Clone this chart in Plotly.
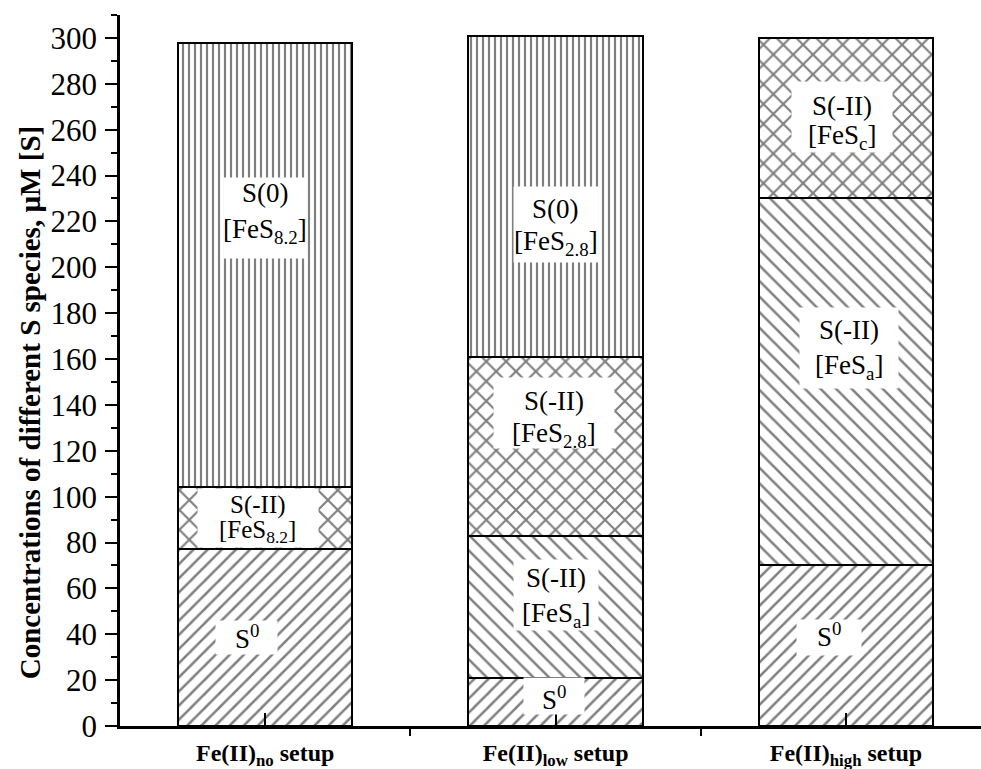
import plotly.graph_objects as go

categories = [1, 2, 3]
cat_labels = ["<b>Fe(II)<sub>no</sub> setup</b>",
              "<b>Fe(II)<sub>low</sub> setup</b>",
              "<b>Fe(II)<sub>high</sub> setup</b>"]

s0_vals = [77, 21, 70]             # S0
fesa_vals = [None, 62, 160]        # S(-II) [FeS_a]
cross_vals = [27, 78, 70]          # S(-II) [FeS_8.2], [FeS_2.8], [FeS_c]
sz_vals = [194, 140, None]         # S(0)

# white label boxes: x (data), y (data), width px, height px
box_x = [0.936, 0.974, 1.0, 1.995, 2.0, 1.995, 2.0, 2.943, 3.012, 2.985]
box_y = [38.4, 90.5, 221.5, 13.1, 57.1, 136.5, 218.5, 38.8, 165, 265.5]
box_w = [61, 120, 82, 60, 84, 120, 84, 64, 98, 100]
box_h = [33, 58, 80, 36, 70, 70, 75, 35, 80, 70]

# label texts: text, x (data), y (data)
label_text = ["S<sup>0</sup>", "S(-II)", "[FeS<sub>8.2</sub>]", "S(0)", "[FeS<sub>8.2</sub>]",
              "S<sup>0</sup>", "S(-II)", "[FeS<sub>a</sub>]", "S(-II)", "[FeS<sub>2.8</sub>]",
              "S(0)", "[FeS<sub>2.8</sub>]",
              "S<sup>0</sup>", "S(-II)", "[FeS<sub>a</sub>]", "S(-II)", "[FeS<sub>c</sub>]"]
label_x = [0.936, 0.974, 0.974, 1.0, 1.0,
           1.995, 2.0, 2.0, 1.995, 1.995,
           2.0, 2.0,
           2.943, 3.012, 3.012, 2.985, 2.985]
label_y = [38.6, 96.2, 85.0, 232.5, 216.0,
           12.0, 64.5, 48.5, 141.8, 127.0,
           225.5, 210.5,
           39.5, 172.5, 156.5, 270.5, 257.0]
label_fs = [27, 25, 25, 27, 27,
            27, 27, 27, 27, 27,
            27, 27,
            27, 27, 27, 27, 27]

serif = "'Liberation Serif', 'Times New Roman', Times, serif"

def seg(vals, shape, size, sol):
    return go.Bar(
        x=categories, y=vals, width=0.6,
        marker=dict(color="white",
                    line=dict(color="black", width=2),
                    pattern=dict(shape=shape, size=size, solidity=sol,
                                 fgcolor="black", bgcolor="white")),
        showlegend=False, hoverinfo="skip")

fig = go.Figure()
fig.add_trace(seg(s0_vals, "/", 10, 0.25))
fig.add_trace(seg(fesa_vals, "\\", 11, 0.23))
fig.add_trace(seg(cross_vals, "x", 14, 0.28))
fig.add_trace(seg(sz_vals, "|", 6, 0.36))

for x, y, w, h in zip(box_x, box_y, box_w, box_h):
    fig.add_annotation(x=x, y=y, xref="x", yref="y", text=" ", showarrow=False,
                       bgcolor="white", width=w, height=h, borderpad=0)

for t, x, y, fs in zip(label_text, label_x, label_y, label_fs):
    fig.add_annotation(x=x, y=y, xref="x", yref="y", text=t, showarrow=False,
                       font=dict(family=serif, size=fs, color="black"))

fig.add_annotation(xref="paper", yref="paper", x=-0.1045, y=0.454,
                   xanchor="center", yanchor="middle",
                   text="<b>Concentrations of different S species, µM [S]</b>",
                   textangle=-90, showarrow=False,
                   font=dict(family=serif, size=29, color="black"))

fig.update_layout(
    width=981, height=769,
    margin=dict(l=120, r=0, t=15, b=43, autoexpand=False),
    paper_bgcolor="white", plot_bgcolor="white",
    barmode="stack",
    font=dict(family=serif, color="black"),
    xaxis=dict(range=[0.5, 3.465], tickvals=categories, ticktext=cat_labels,
               automargin=False,
               showline=True, linecolor="black", linewidth=2.5,
               ticks="inside", ticklen=13, tickwidth=2, tickcolor="black",
               showgrid=False, zeroline=False,
               tickfont=dict(family=serif, size=24, color="black"),
               ticklabelstandoff=3,
               minor=dict(tickvals=[0.5, 1.5, 2.5, 3.5], ticks="outside",
                          ticklen=7, tickwidth=2, tickcolor="black", showgrid=False)),
    yaxis=dict(range=[0, 310], tick0=0, dtick=20,
               automargin=False,
               showline=True, linecolor="black", linewidth=2.5,
               ticks="outside", ticklen=12, tickwidth=2, tickcolor="black",
               showgrid=False, zeroline=False,
               tickfont=dict(family=serif, size=31, color="black"),
               ticklabelstandoff=2,
               minor=dict(dtick=10, ticks="outside", ticklen=6, tickwidth=2,
                          tickcolor="black", showgrid=False)),
)

fig.write_html("out.html")
